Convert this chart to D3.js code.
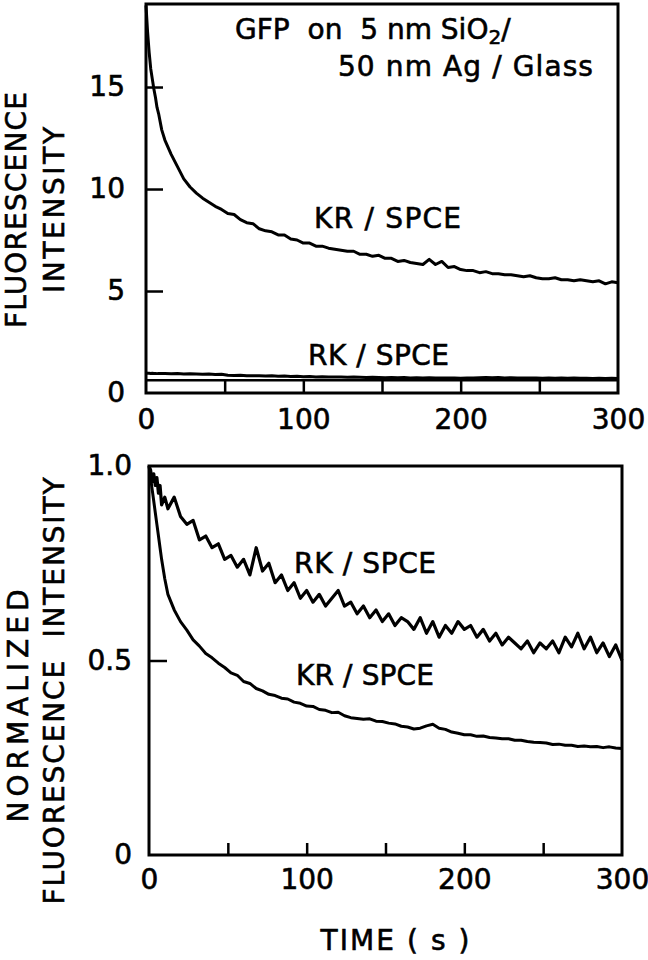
<!DOCTYPE html>
<html>
<head>
<meta charset="utf-8">
<script src="https://cdn.jsdelivr.net/npm/d3@7"></script>
<style>
  body { margin: 0; background: #fff; }
  svg text { font-family: "DejaVu Sans", sans-serif; fill: #000; stroke: #000; stroke-width: 0.6px; white-space: pre; }
</style>
</head>
<body>
<svg id="chart"></svg>
<script>
// time grid (s)
var tSec = [0,1,2,3,4,5,6,7,8,10,12,16,20,24,28,32,36,40,44,48,52,56,60,64,68,72,76,80,84,88,92,96,100,104,108,112,116,120,124,128,132,136,140,144,148,152,156,160,164,168,172,176,180,184,188,192,196,200,204,208,212,216,220,224,228,232,236,240,244,248,252,256,260,264,268,272,276,280,284,288,292,296,300];

// top panel: fluorescence intensity
var krRaw = [19.0,17.7,16.7,15.9,15.4,14.9,14.5,14.0,13.7,12.9,
  12.4,11.7,11.1,10.5,10.1,9.8,9.55,9.35,9.15,9.0,8.8,8.75,8.5,8.35,8.3,8.05,7.95,7.9,7.75,7.75,7.55,7.5,7.35,7.35,7.2,7.2,7.1,7.05,7.0,6.95,6.95,6.8,6.8,6.7,6.75,6.6,6.6,6.45,6.5,6.4,6.35,6.3,6.55,6.3,6.45,6.15,6.2,6.05,6.0,6.0,5.9,5.95,5.85,5.85,5.8,5.8,5.75,5.7,5.75,5.65,5.6,5.6,5.65,5.55,5.55,5.5,5.55,5.5,5.45,5.5,5.35,5.45,5.4];
var rkRaw = [0.98,0.97,0.97,0.96,0.97,0.96,0.96,0.95,0.96,0.95,
  0.95,0.94,0.95,0.93,0.94,0.93,0.92,0.93,0.91,0.92,0.87,0.86,0.87,0.85,0.84,0.85,0.83,0.84,0.82,0.83,0.81,0.82,0.8,0.81,0.79,0.8,0.78,0.79,0.78,0.77,0.78,0.77,0.76,0.77,0.76,0.75,0.76,0.75,0.76,0.74,0.75,0.74,0.75,0.74,0.73,0.74,0.73,0.72,0.73,0.74,0.75,0.76,0.75,0.76,0.74,0.75,0.74,0.73,0.74,0.73,0.72,0.73,0.72,0.73,0.72,0.73,0.72,0.72,0.71,0.72,0.71,0.72,0.71];
var topStripLevel = 0.62;

// bottom panel: normalized intensity
var krNorm = [1.0,0.97,0.94,0.91,0.88,0.85,0.82,0.79,0.76,0.71,
  0.67,0.63,0.60,0.578,0.553,0.537,0.518,0.507,0.493,0.482,0.468,0.462,0.446,0.441,0.428,0.422,0.413,0.41,0.403,0.401,0.393,0.39,0.383,0.382,0.374,0.372,0.366,0.367,0.358,0.353,0.351,0.349,0.35,0.344,0.343,0.339,0.337,0.331,0.329,0.324,0.326,0.332,0.336,0.326,0.323,0.316,0.313,0.309,0.309,0.305,0.306,0.302,0.301,0.299,0.299,0.295,0.295,0.292,0.29,0.289,0.288,0.284,0.285,0.282,0.282,0.279,0.28,0.278,0.279,0.276,0.278,0.275,0.274];
var rkNorm = [1.0,0.99,0.96,0.98,0.95,0.97,0.93,0.95,0.90,0.92,
  0.89,0.92,0.87,0.85,0.86,0.81,0.82,0.79,0.80,0.76,0.77,0.74,0.76,0.72,0.79,0.73,0.75,0.70,0.72,0.68,0.70,0.66,0.68,0.65,0.67,0.64,0.66,0.68,0.64,0.65,0.62,0.64,0.61,0.63,0.60,0.62,0.59,0.61,0.60,0.58,0.61,0.57,0.60,0.56,0.59,0.57,0.60,0.58,0.59,0.56,0.58,0.55,0.57,0.54,0.56,0.545,0.53,0.55,0.52,0.545,0.53,0.55,0.52,0.56,0.535,0.57,0.53,0.56,0.52,0.545,0.51,0.54,0.50];

// ticks
var xLabelTicks = [0, 100, 200, 300];
var xMinorTicks = [50, 100, 150, 200, 250];
var topYLabels = [0, 5, 10, 15];
var topYMinor = [5, 10, 15];
var botYLabels = [0, 0.5, 1.0];
var botYMinor = [0.5];

var W = 648, H = 960;
var svg = d3.select("#chart").attr("width", W).attr("height", H);
svg.append("rect").attr("width", W).attr("height", H).attr("fill", "#fff");

var fontSize = 28;

function buildPanel(box, yMax, yFmt, yLabels, yMinor) {
  var x = d3.scaleLinear().domain([0, 300]).range([box.left, box.right]);
  var y = d3.scaleLinear().domain([0, yMax]).range([box.bottom, box.top]);
  var g = svg.append("g");

  // tick labels
  g.append("g")
      .attr("transform", "translate(0," + box.bottom + ")")
      .call(d3.axisBottom(x).tickValues(xLabelTicks).tickSize(0).tickPadding(box.xPad).tickFormat(d3.format("d")))
      .call(function(a) { a.select(".domain").remove(); })
      .selectAll("text").attr("font-size", fontSize);
  g.append("g")
      .attr("transform", "translate(" + box.left + ",0)")
      .call(d3.axisLeft(y).tickValues(yLabels).tickSize(0).tickPadding(box.yPad).tickFormat(yFmt))
      .call(function(a) { a.select(".domain").remove(); })
      .selectAll("text").attr("font-size", fontSize);

  // inward ticks
  g.append("g")
      .attr("transform", "translate(0," + box.bottom + ")")
      .call(d3.axisBottom(x).tickValues(xMinorTicks).tickSizeInner(-box.xTick).tickSizeOuter(0).tickFormat(""))
      .call(function(a) { a.select(".domain").remove(); a.selectAll("line").attr("stroke-width", 2.5); });
  g.append("g")
      .attr("transform", "translate(" + box.left + ",0)")
      .call(d3.axisLeft(y).tickValues(yMinor).tickSizeInner(-box.yTick).tickSizeOuter(0).tickFormat(""))
      .call(function(a) { a.select(".domain").remove(); a.selectAll("line").attr("stroke-width", 2.5); });

  // frame
  g.append("rect")
      .attr("x", box.left).attr("y", box.top)
      .attr("width", box.right - box.left).attr("height", box.bottom - box.top)
      .attr("fill", "none").attr("stroke", "#000").attr("stroke-width", 3);

  return {x: x, y: y, g: g};
}

function drawCurve(p, values, width) {
  var line = d3.line()
      .x(function(d, i) { return p.x(tSec[i]); })
      .y(function(d) { return p.y(d); });
  p.g.append("path")
      .datum(values)
      .attr("fill", "none")
      .attr("stroke", "#000")
      .attr("stroke-width", width)
      .attr("stroke-linejoin", "round")
      .attr("d", line);
}

function label(p, t, v, str, len) {
  var txt = p.g.append("text")
      .attr("x", p.x(t)).attr("y", p.y(v))
      .attr("font-size", fontSize)
      .text(str);
  if (len) txt.attr("textLength", len).attr("lengthAdjust", "spacing");
  return txt;
}

// top panel
var topPanel = buildPanel({left: 146, right: 618, top: 4, bottom: 393, xPad: 16, yPad: 21, xTick: 13, yTick: 17},
    19.07, d3.format("d"), topYLabels, topYMinor);

topPanel.g.append("line")
    .attr("x1", topPanel.x(0)).attr("x2", topPanel.x(300))
    .attr("y1", topPanel.y(topStripLevel)).attr("y2", topPanel.y(topStripLevel))
    .attr("stroke", "#000").attr("stroke-width", 2.5);

drawCurve(topPanel, krRaw, 3);
drawCurve(topPanel, rkRaw, 3);

label(topPanel, 106.8, 8.09, "KR / SPCE", 147);
label(topPanel, 103, 1.37, "RK / SPCE", 141);

var gfp = topPanel.g.append("text")
    .attr("x", topPanel.x(56.6)).attr("y", topPanel.y(17.35))
    .attr("font-size", fontSize);
gfp.append("tspan").text("GFP  on  5 nm SiO");
gfp.append("tspan").attr("dy", 5).attr("font-size", 20).text("2");
gfp.append("tspan").attr("dy", -5).text("/");
label(topPanel, 122, 15.55, "50 nm Ag / Glass", 255);

// bottom panel
var botPanel = buildPanel({left: 149, right: 622, top: 466, bottom: 855, xPad: 14, yPad: 17, xTick: 12, yTick: 18},
    1.0, function(d) { return d === 0 ? "0" : d3.format(".1f")(d); }, botYLabels, botYMinor);

drawCurve(botPanel, rkNorm, 3.2);
drawCurve(botPanel, krNorm, 3);

label(botPanel, 92, 0.725, "RK / SPCE", 142);
label(botPanel, 93.2, 0.437, "KR / SPCE", 138);

// axis titles
function vTitle(xPos, yCenter, str, len) {
  svg.append("text")
      .attr("transform", "translate(" + xPos + "," + yCenter + ") rotate(-90)")
      .attr("text-anchor", "middle")
      .attr("font-size", fontSize)
      .attr("textLength", len).attr("lengthAdjust", "spacing")
      .text(str);
}
vTitle(26, 210, "FLUORESCENCE", 236);
vTitle(64, 210, "INTENSITY", 166);
vTitle(28, 706, "NORMALIZED", 233);
vTitle(64, 691, "FLUORESCENCE  INTENSITY", 427);

svg.append("text")
    .attr("x", 395).attr("y", 950)
    .attr("text-anchor", "middle")
    .attr("font-size", fontSize)
    .attr("textLength", 149).attr("lengthAdjust", "spacing")
    .text("TIME ( s )");
</script>
</body>
</html>
